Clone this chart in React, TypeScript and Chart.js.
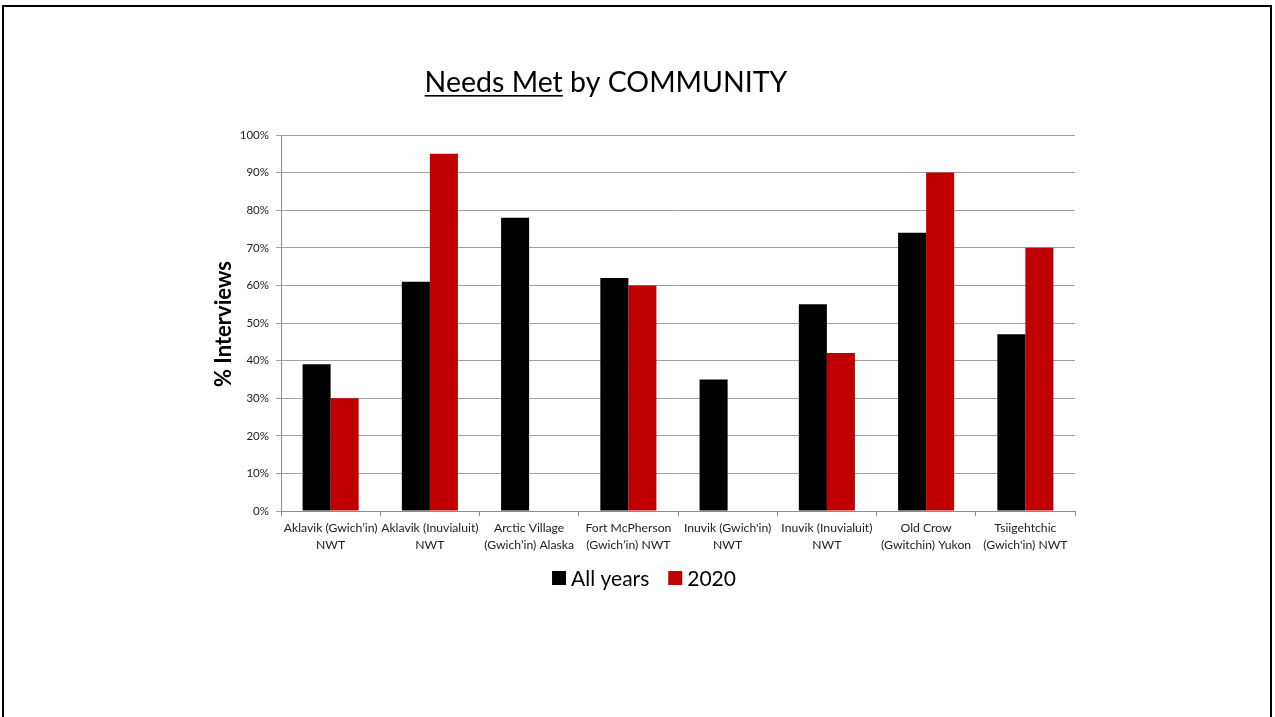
import React, { useEffect, useRef } from 'react';
import { Chart, registerables } from 'chart.js';

Chart.register(...registerables);

const categories: string[][] = [
  ['Aklavik (Gwich’in)', 'NWT'],
  ['Aklavik (Inuvialuit)', 'NWT'],
  ['Arctic Village', '(Gwich’in) Alaska'],
  ['Fort McPherson', '(Gwich’in) NWT'],
  ["Inuvik (Gwich'in)", 'NWT'],
  ['Inuvik (Inuvialuit)', 'NWT'],
  ['Old Crow', '(Gwitchin) Yukon'],
  ['Tsiigehtchic', "(Gwich'in) NWT"],
];

const allYears: (number | null)[] = [39, 61, 78, 62, 35, 55, 74, 47];
const year2020: (number | null)[] = [30, 95, null, 60, null, 42, 90, 70];

const seriesNames = ['All years', '2020'];
const seriesColors = ['#000000', '#C00000'];

const yTicks = [0, 10, 20, 30, 40, 50, 60, 70, 80, 90, 100];

const chartTitleA = 'Needs Met';
const chartTitleB = ' by COMMUNITY';
const yAxisTitle = '% Interviews';

const FONT = 'Lato, "Open Sans", "DejaVu Sans", sans-serif';

const overlayPlugin = {
  id: 'overlay',
  afterDraw(chart: any) {
    const ctx = chart.ctx as CanvasRenderingContext2D;
    ctx.save();
    // Title
    ctx.fillStyle = '#000';
    ctx.font = `28.5px ${FONT}`;
    ctx.textBaseline = 'alphabetic';
    ctx.textAlign = 'left';
    const w1 = ctx.measureText(chartTitleA).width;
    const w2 = ctx.measureText(chartTitleB).width;
    const x0 = 606 - (w1 + w2) / 2;
    ctx.fillText(chartTitleA, x0, 92);
    ctx.fillText(chartTitleB, x0 + w1, 92);
    ctx.fillRect(x0, 95, w1, 1.6);

    // Y axis title
    ctx.save();
    ctx.translate(224, 324);
    ctx.rotate(-Math.PI / 2);
    ctx.font = `bold 22px ${FONT}`;
    ctx.textAlign = 'center';
    ctx.textBaseline = 'middle';
    ctx.fillText(yAxisTitle, 0, 0);
    ctx.restore();

    // Legend
    ctx.font = `21px ${FONT}`;
    ctx.textBaseline = 'middle';
    ctx.textAlign = 'left';
    const box = 14;
    const gapBoxText = 5;
    const gapItems = 19;
    const ds = chart.data.datasets;
    const widths = ds.map((d: any) => ctx.measureText(d.label).width);
    let total = 0;
    widths.forEach((w: number, i: number) => {
      total += box + gapBoxText + w + (i < widths.length - 1 ? gapItems : 0);
    });
    let x = 644 - total / 2;
    const cy = 578;
    ds.forEach((d: any, i: number) => {
      ctx.fillStyle = d.backgroundColor;
      ctx.fillRect(x, cy - box / 2, box, box);
      x += box + gapBoxText;
      ctx.fillStyle = '#000';
      ctx.fillText(d.label, x, cy + 1);
      x += widths[i] + gapItems;
    });
    ctx.restore();
  },
};

export default function App() {
  const canvasRef = useRef<HTMLCanvasElement | null>(null);

  useEffect(() => {
    if (!canvasRef.current) return;
    const chart = new Chart(canvasRef.current, {
      type: 'bar',
      data: {
        labels: categories,
        datasets: [
          {
            label: seriesNames[0],
            data: allYears,
            backgroundColor: seriesColors[0],
            borderWidth: 0,
            categoryPercentage: 0.565,
            barPercentage: 1.0,
          },
          {
            label: seriesNames[1],
            data: year2020,
            backgroundColor: seriesColors[1],
            borderWidth: 0,
            categoryPercentage: 0.565,
            barPercentage: 1.0,
          },
        ],
      },
      options: {
        responsive: false,
        animation: false,
        devicePixelRatio: 1,
        layout: {
          padding: { left: 221, right: 200, top: 135, bottom: 156 },
        },
        plugins: {
          legend: { display: false },
          title: { display: false },
          tooltip: { enabled: false },
        },
        scales: {
          x: {
            afterFit: (scale: any) => {
              scale.height = 50;
            },
            grid: {
              display: true,
              drawOnChartArea: false,
              drawTicks: true,
              tickLength: 5,
              offset: true,
              color: '#8c8c8c',
            },
            border: { display: true, color: '#8c8c8c', width: 1 },
            ticks: {
              color: '#222',
              font: { family: FONT, size: 12.2, lineHeight: 1.45 },
              padding: 3,
              maxRotation: 0,
              autoSkip: false,
            },
          },
          y: {
            min: 0,
            max: 100,
            afterFit: (scale: any) => {
              scale.width = 60;
            },
            afterBuildTicks: (scale: any) => {
              scale.ticks = yTicks.map((v) => ({ value: v }));
            },
            grid: {
              color: '#a0a0a0',
              drawTicks: true,
              tickLength: 5,
            },
            border: { display: true, color: '#8c8c8c', width: 1 },
            ticks: {
              color: '#222',
              font: { family: FONT, size: 11.5 },
              padding: 7,
              callback: (v: any) => `${v}%`,
            },
          },
        },
      },
      plugins: [overlayPlugin],
    });
    return () => chart.destroy();
  }, []);

  return (
    <div style={{ position: 'fixed', left: 0, top: 0, width: 1275, height: 717, background: '#fff' }}>
      <canvas ref={canvasRef} width={1275} height={717} style={{ position: 'absolute', left: 0, top: 0 }} />
      <div
        style={{
          position: 'absolute',
          left: 2,
          top: 5,
          width: 1266,
          height: 720,
          borderTop: '2px solid #000',
          borderLeft: '2px solid #000',
          borderRight: '2px solid #000',
          pointerEvents: 'none',
        }}
      />
    </div>
  );
}
